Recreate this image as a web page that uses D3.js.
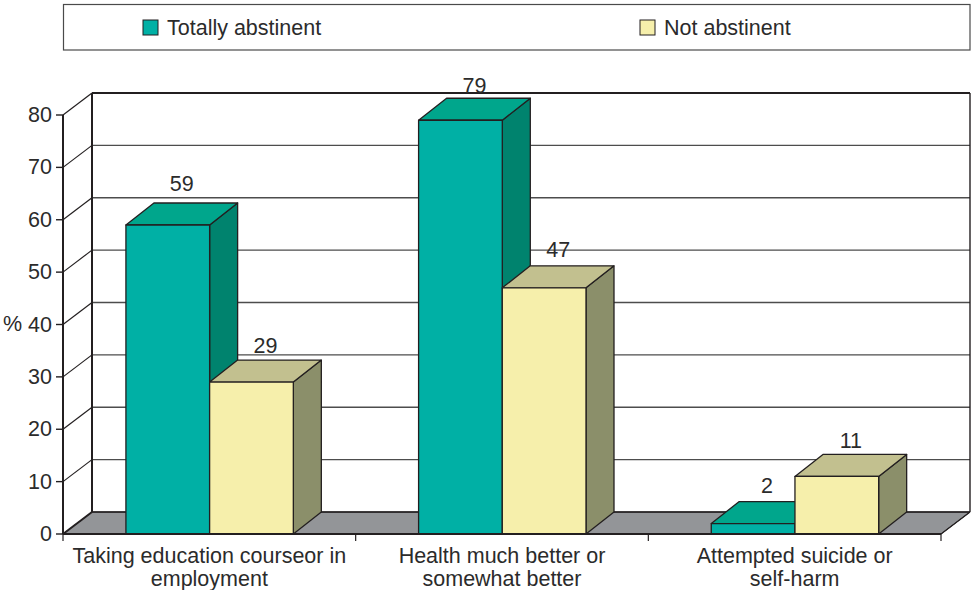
<!DOCTYPE html>
<html>
<head>
<meta charset="utf-8">
<script src="https://cdn.jsdelivr.net/npm/d3@7/dist/d3.min.js"></script>
<style>
  html, body { margin: 0; padding: 0; background: #fff; }
  svg { display: block; }
  text { font-family: "Liberation Sans", Arial, sans-serif; fill: #2b2b2b; }
</style>
</head>
<body>
<svg id="chart" width="971" height="590"></svg>
<script>
// Chart data
const categories = [
  ["Taking education courseor in", "employment"],
  ["Health much better or", "somewhat better"],
  ["Attempted suicide or", "self-harm"]
];
const seriesNames = ["Totally abstinent", "Not abstinent"];
const abstinent = [59, 79, 2];
const notAbstinent = [29, 47, 11];
const yTicks = [0, 10, 20, 30, 40, 50, 60, 70, 80];

const palette = [
  { front: "#00b0a5", top: "#00a68c", side: "#00836e" },
  { front: "#f6efab", top: "#c2c08f", side: "#8b8f6a" }
];
const ink = "#231f20";
const fontSize = 21.5;

// Front plane of the 3D box and its projection onto the back wall
const frontLeft = 63, frontRight = 941, baseY = 534, topY = 115;
const wallDx = 29, wallDy = -22;
const barDx = 28, barDy = -22;

// Gap between each cuboid's top edge and its value label, by category then series
const labelLift = [[12, 7], [5, 9], [9, 6]];

const svg = d3.select("#chart");
const y = d3.scaleLinear().domain([0, 80]).range([baseY, topY]);
const x = d3.scaleBand().domain(d3.range(categories.length)).range([frontLeft, frontRight]);
const inner = d3.scaleBand().domain(d3.range(seriesNames.length))
  .range([x.bandwidth() * 0.215, x.bandwidth() * 0.787]);

const pts = a => a.map(p => p.join(",")).join(" ");
const seg = (g, x1, y1, x2, y2, w, c) => g.append("line")
  .attr("x1", x1).attr("y1", y1).attr("x2", x2).attr("y2", y2)
  .attr("stroke", c || ink).attr("stroke-width", w);

// Legend
const legend = svg.append("g");
legend.append("rect").attr("x", 63.5).attr("y", 4.5).attr("width", 906.5).attr("height", 45.5)
  .attr("fill", "#fff").attr("stroke", "#4a4a4a").attr("stroke-width", 1.2);
const legendX = [143, 640];
seriesNames.forEach((name, i) => {
  legend.append("rect").attr("x", legendX[i]).attr("y", 20).attr("width", 15).attr("height", 15)
    .attr("fill", palette[i].front).attr("stroke", ink).attr("stroke-width", 1);
  legend.append("text").attr("x", legendX[i] + 24).attr("y", 35).attr("font-size", fontSize).text(name);
});

// Floor and walls
const plot = svg.append("g");
plot.append("polygon")
  .attr("points", pts([[frontLeft, baseY], [frontLeft + wallDx, baseY + wallDy],
    [frontRight + wallDx, baseY + wallDy], [frontRight, baseY]]))
  .attr("fill", "#939598").attr("stroke", ink).attr("stroke-width", 1);

// Gridlines on the back wall and their slanted returns on the side wall
yTicks.forEach(t => {
  const yy = y(t);
  seg(plot, frontLeft, yy, frontLeft + wallDx, yy + wallDy, t === 0 ? 2 : 1.2);
  seg(plot, frontLeft + wallDx, yy + wallDy, frontRight + wallDx, yy + wallDy, t === 80 ? 2 : 1.4, t === 80 || t === 0 ? ink : "#4d4d4d");
});
seg(plot, frontLeft + wallDx, y(80) + wallDy, frontLeft + wallDx, baseY + wallDy, 2);
seg(plot, frontRight + wallDx, y(80) + wallDy, frontRight + wallDx, baseY + wallDy, 1.4);
seg(plot, frontRight, baseY, frontRight + wallDx, baseY + wallDy, 1.2);

// Bars, one cuboid per value, drawn left to right so nearer faces overlap
const cuboid = (g, x0, x1, y0, v, colors) => {
  const yt = y(v);
  const face = (p, fill) => g.append("polygon").attr("points", pts(p)).attr("fill", fill)
    .attr("stroke", ink).attr("stroke-width", 1.3).attr("stroke-linejoin", "round");
  face([[x1, y0], [x1 + barDx, y0 + barDy], [x1 + barDx, yt + barDy], [x1, yt]], colors.side);
  face([[x0, yt], [x0 + barDx, yt + barDy], [x1 + barDx, yt + barDy], [x1, yt]], colors.top);
  face([[x0, y0], [x0, yt], [x1, yt], [x1, y0]], colors.front);
};

const bars = svg.append("g");
const labels = [];
categories.forEach((_, c) => {
  [abstinent, notAbstinent].forEach((series, s) => {
    const x0 = x(c) + inner(s);
    const x1 = x0 + inner.bandwidth();
    cuboid(bars, x0, x1, baseY, series[c], palette[s]);
    labels.push({ x: (x0 + x1) / 2 + barDx / 2, y: y(series[c]) + barDy - labelLift[c][s], v: series[c] });
  });
});

// Value labels above each bar
svg.append("g").selectAll("text").data(labels).join("text")
  .attr("x", d => d.x).attr("y", d => d.y)
  .attr("text-anchor", "middle").attr("font-size", fontSize)
  .text(d => d.v);

// Front axes
const axes = svg.append("g");
seg(axes, frontLeft, y(80), frontLeft, baseY, 2);
seg(axes, frontLeft, baseY, frontRight, baseY, 2);
yTicks.forEach(t => {
  seg(axes, frontLeft - 7, y(t), frontLeft, y(t), 1.4);
  axes.append("text").attr("x", 52).attr("y", y(t) + 7)
    .attr("text-anchor", "end").attr("font-size", fontSize).text(t);
});
axes.append("text").attr("x", 3).attr("y", 331).attr("font-size", fontSize).text("%");

d3.range(categories.length + 1).forEach(i => {
  const tx = i < categories.length ? x(i) : frontRight;
  seg(axes, tx, baseY, tx, baseY + 7, 1.2);
});

// Two-line category labels
categories.forEach((lines, c) => {
  const cx = x(c) + x.bandwidth() / 2;
  lines.forEach((line, j) => {
    axes.append("text").attr("x", cx).attr("y", 563 + j * 22.5)
      .attr("text-anchor", "middle").attr("font-size", fontSize).text(line);
  });
});
</script>
</body>
</html>
